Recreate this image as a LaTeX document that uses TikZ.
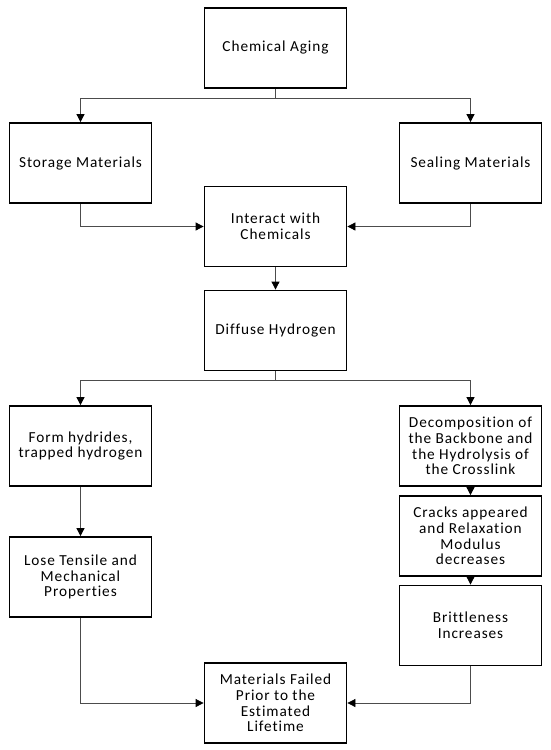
\documentclass[tikz,border=0pt]{standalone}
\usepackage{fontspec}
\setmainfont{Carlito}[LetterSpace=6,Ligatures={NoCommon}]
\usetikzlibrary{arrows.meta}
\begin{document}
\begin{tikzpicture}[x=1pt,y=-1pt,
  box/.style={draw=black, line width=1.8pt, minimum width=142pt, minimum height=80pt,
    align=center, inner sep=2pt, font=\fontsize{15.3}{15.8}\selectfont},
  link/.style={draw=black!70, line width=0.8pt},
  conn/.style={link, -{Triangle[length=8pt,width=8pt,color=black]}}]
\useasboundingbox (0,0) rectangle (550,750);
\fill[white] (0,0) rectangle (550,750);
\node[box] (ca)   at (275.5,48)  {Chemical Aging};
\node[box] (sto)  at (80.5,163)  {Storage Materials};
\node[box] (sea)  at (470.5,163) {Sealing Materials};
\node[box] (int)  at (275.5,226.5) {Interact with\\Chemicals};
\node[box] (dif)  at (275.5,330.5) {Diffuse Hydrogen};
\node[box] (form) at (80.5,446)  {Form hydrides,\\trapped hydrogen};
\node[box] (dec)  at (470.5,446) {Decomposition of\\the Backbone and\\the Hydrolysis of\\the Crosslink};
\node[box] (crk)  at (470.5,536) {Cracks appeared\\and Relaxation\\Modulus\\decreases};
\node[box] (lose) at (80.5,577)  {Lose Tensile and\\Mechanical\\Properties};
\node[box] (brit) at (470.5,625.5) {Brittleness\\Increases};
\node[box] (mat)  at (275.5,703) {Materials Failed\\Prior to the\\Estimated\\Lifetime};
\draw[link] (ca.south) -- ++(0,9) coordinate (j1);
\draw[conn] (j1) -| (sto.north);
\draw[conn] (j1) -| (sea.north);
\draw[conn] (sto.south) |- (int.west);
\draw[conn] (sea.south) |- (int.east);
\draw[conn] (int) -- (dif);
\draw[link] (dif.south) -- ++(0,9) coordinate (j2);
\draw[conn] (j2) -| (form.north);
\draw[conn] (j2) -| (dec.north);
\draw[conn] (dec) -- (crk);
\draw[conn] (crk) -- (brit);
\draw[conn] (form) -- (lose);
\draw[conn] (lose.south) |- (mat.west);
\draw[conn] (brit.south) |- (mat.east);
\end{tikzpicture}
\end{document}
